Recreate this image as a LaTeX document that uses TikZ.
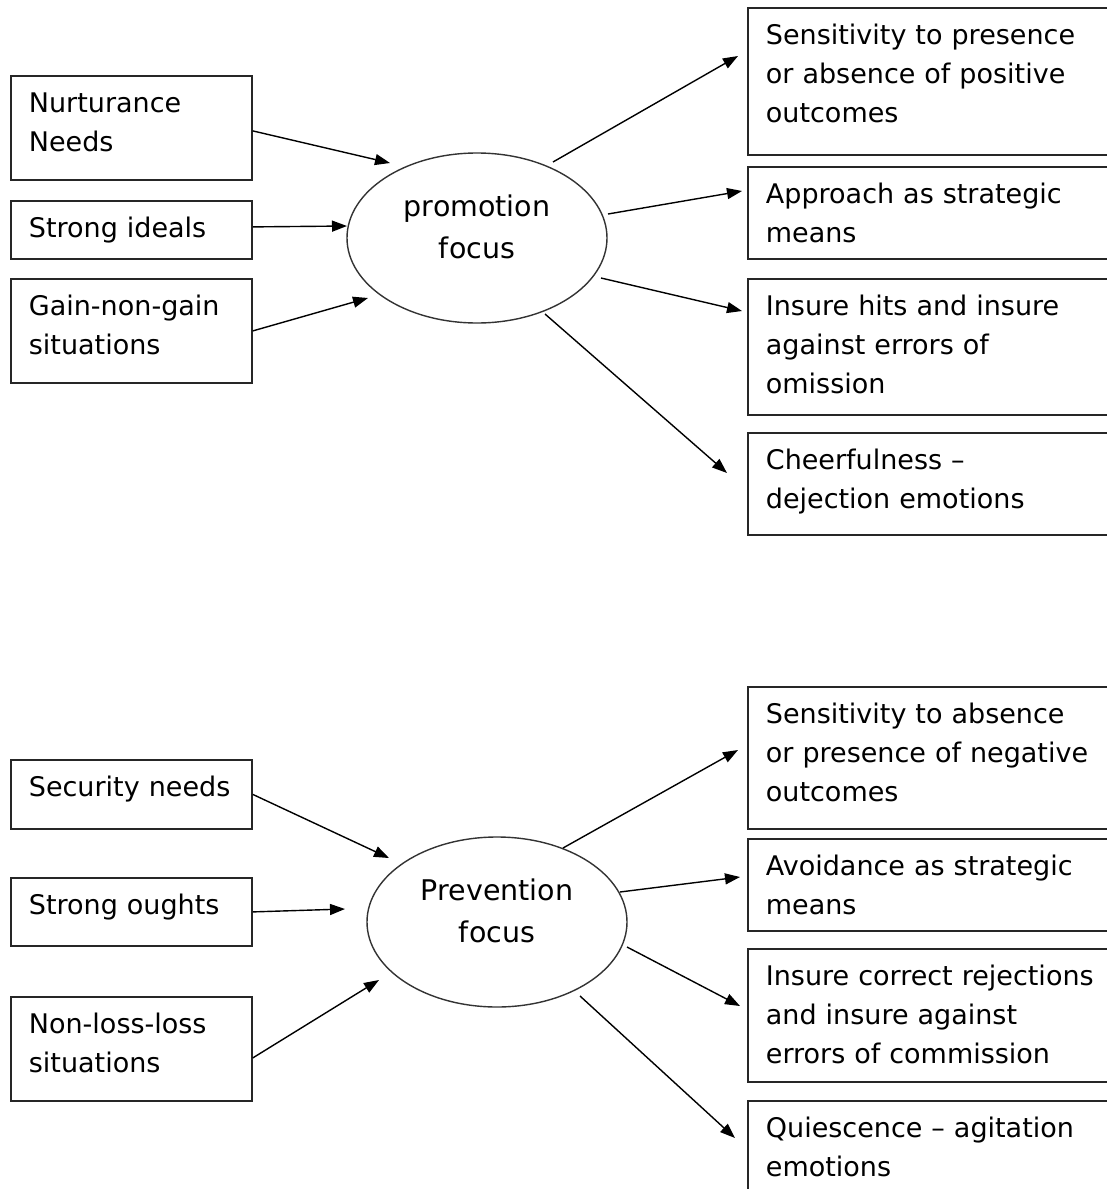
\documentclass[tikz,border=0pt]{standalone}
\usepackage{fontspec}
\setmainfont{DejaVu Sans}
\usetikzlibrary{arrows.meta,shapes.geometric}
\begin{document}
\begin{tikzpicture}[x=1pt,y=-1pt,
  box/.style={draw=black!85, line width=1.8pt, rectangle, anchor=north west,
    inner xsep=18pt, inner ysep=0pt, align=left, text height=37pt,
    font=\fontsize{27}{39}\selectfont},
  % box height: text stays at the top, the rest goes below it
  boxh/.code={\pgfmathsetlengthmacro\tikzboxdepth{#1-37pt}%
    \pgfkeysalso{minimum height=#1, text depth/.expanded=\tikzboxdepth}},
  leftbox/.style={box, text width=205pt, minimum width=241pt},
  rightbox/.style={box, text width=364pt, minimum width=400pt},
  focus/.style={draw=black!80, line width=1.4pt, ellipse, minimum width=260pt,
    minimum height=170pt, inner sep=0pt, align=center,
    text height=64pt, text depth=24pt,
    font=\fontsize{28.5}{42}\selectfont},
  link/.style={line width=1.4pt, -{Triangle[length=15pt,width=11pt]}}
]
\clip (0,0) rectangle (1107,1189);
\fill[white] (0,0) rectangle (1107,1189);

% ---------- promotion focus ----------
\node[focus] (promo) at (477,238) {promotion\\focus};

\node[leftbox, boxh=104pt] (nurt) at (10,75) {Nurturance\\Needs};
\node[leftbox, boxh=58pt] (ideals) at (10,200) {Strong~ideals};
\node[leftbox, boxh=104pt] (gain) at (10,278) {Gain-non-gain\\situations};

\node[rightbox, boxh=147pt] (p1) at (747,7)
  {Sensitivity~to~presence\\or~absence~of~positive\\outcomes};
\node[rightbox, boxh=92pt] (p2) at (747,166)
  {Approach~as~strategic\\means};
\node[rightbox, boxh=136pt] (p3) at (747,278)
  {Insure~hits~and~insure\\against~errors~of\\omission};
\node[rightbox, boxh=102pt] (p4) at (747,432)
  {Cheerfulness~–\\dejection~emotions};

\coordinate (nurtTip) at (390,163);
\coordinate (idealsTip) at (347,226);
\coordinate (gainTip) at (368,298);
\draw[link] (nurt.east) ++(0,3) -- (nurtTip);
\draw[link] (ideals.east) ++(0,-3) -- (idealsTip);
\draw[link] (gain.east) -- (gainTip);

\coordinate (pOut1) at (553,162);
\coordinate (pOut2) at (608,214);
\coordinate (pOut3) at (601,278);
\coordinate (pOut4) at (545,314);
\coordinate (p1Tip) at (738,56);
\coordinate (p2Tip) at (742,191);
\coordinate (p3Tip) at (742,311);
\coordinate (p4Tip) at (727,473);
\draw[link] (pOut1) -- (p1Tip);
\draw[link] (pOut2) -- (p2Tip);
\draw[link] (pOut3) -- (p3Tip);
\draw[link] (pOut4) -- (p4Tip);

% ---------- prevention focus ----------
\node[focus] (prev) at (497,922) {Prevention\\focus};

\node[leftbox, boxh=69pt] (sec) at (10,759) {Security~needs};
\node[leftbox, boxh=68pt] (oughts) at (10,877) {Strong~oughts};
\node[leftbox, boxh=104pt] (loss) at (10,996) {Non-loss-loss\\situations};

\node[rightbox, boxh=142pt] (v1) at (747,686)
  {Sensitivity~to~absence\\or~presence~of~negative\\outcomes};
\node[rightbox, boxh=92pt] (v2) at (747,838)
  {Avoidance~as~strategic\\means};
\node[rightbox, boxh=133pt] (v3) at (747,948)
  {Insure~correct~rejections\\and~insure~against\\errors~of~commission};
\node[rightbox, boxh=120pt] (v4) at (747,1100)
  {Quiescence~–~agitation\\emotions};

\coordinate (secTip) at (389,858);
\coordinate (oughtsTip) at (345,909);
\coordinate (lossTip) at (379,980);
\draw[link] (sec.east) -- (secTip);
\draw[link] (oughts.east) -- (oughtsTip);
\draw[link] (loss.east) ++(0,9) -- (lossTip);

\coordinate (vOut1) at (563,848);
\coordinate (vOut2) at (620,892);
\coordinate (vOut3) at (627,947);
\coordinate (vOut4) at (580,996);
\coordinate (v1Tip) at (738,750);
\coordinate (v2Tip) at (740,877);
\coordinate (v3Tip) at (740,1006);
\coordinate (v4Tip) at (735,1138);
\draw[link] (vOut1) -- (v1Tip);
\draw[link] (vOut2) -- (v2Tip);
\draw[link] (vOut3) -- (v3Tip);
\draw[link] (vOut4) -- (v4Tip);
\end{tikzpicture}
\end{document}
